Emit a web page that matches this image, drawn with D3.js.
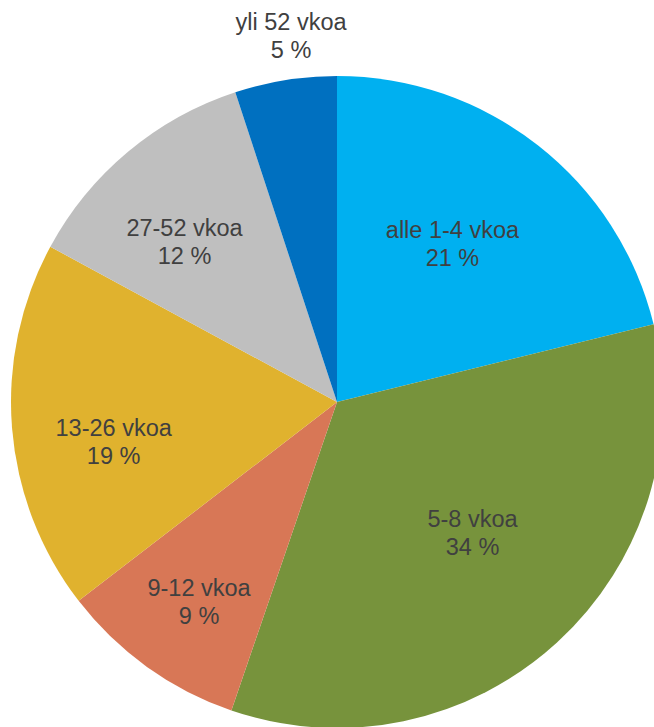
<!DOCTYPE html>
<html>
<head>
<meta charset="utf-8">
<script src="https://cdn.jsdelivr.net/npm/d3@7"></script>
<style>
body { margin: 0; background: #fff; }
text { font-family: "Liberation Sans", Arial, sans-serif; }
</style>
</head>
<body>
<div id="chart"></div>
<script>
// data: shares as drawn, and the percent labels as printed on the chart
var categories = ["alle 1-4 vkoa", "5-8 vkoa", "9-12 vkoa", "13-26 vkoa", "27-52 vkoa", "yli 52 vkoa"]
var values = [21.17, 34.08, 9.31, 18.34, 12.05, 5.05]
var pctLabels = ["21 %", "34 %", "9 %", "19 %", "12 %", "5 %"]
var colors = ["#00B0F0", "#77933C", "#D87756", "#E0B22E", "#BFBFBF", "#0070C0"]

// label placement (Excel best fit): share of radius, and a small turn off the bisector in degrees
var labelR = [0.601, 0.578, 0.745, 0.696, 0.678, 1.133]
var labelTurn = [-2.0, -3.55, -1.05, -5.55, -3.74, 1.95]

var width = 654, height = 727
var cx = 337, cy = 402, radius = 326

var svg = d3.select("#chart")
  .append("svg")
  .attr("width", width)
  .attr("height", height)

var g = svg.append("g")
  .attr("transform", "translate(" + cx + "," + cy + ")")

var pie = d3.pie().sort(null).value(function(d){ return d })
var arcs = pie(values)

var arc = d3.arc().innerRadius(0).outerRadius(radius)

g.selectAll("path.slice")
  .data(arcs)
  .enter()
  .append("path")
  .attr("class", "slice")
  .attr("fill", function(d, i){ return colors[i] })
  .attr("d", arc)

var labels = g.selectAll("text.lbl")
  .data(arcs)
  .enter()
  .append("text")
  .attr("class", "lbl")
  .attr("text-anchor", "middle")
  .attr("font-size", "23.5px")
  .attr("fill", "#404040")
  .attr("transform", function(d, i){
    var r = radius * labelR[i]
    var a = (d.startAngle + d.endAngle) / 2 + labelTurn[i] * Math.PI / 180
    return "translate(" + (Math.sin(a) * r) + "," + (-Math.cos(a) * r) + ")"
  })

labels.append("tspan")
  .attr("x", 0)
  .attr("dy", "-0.25em")
  .text(function(d, i){ return categories[i] })

labels.append("tspan")
  .attr("x", 0)
  .attr("dy", "1.2em")
  .text(function(d, i){ return pctLabels[i] })
</script>
</body>
</html>
